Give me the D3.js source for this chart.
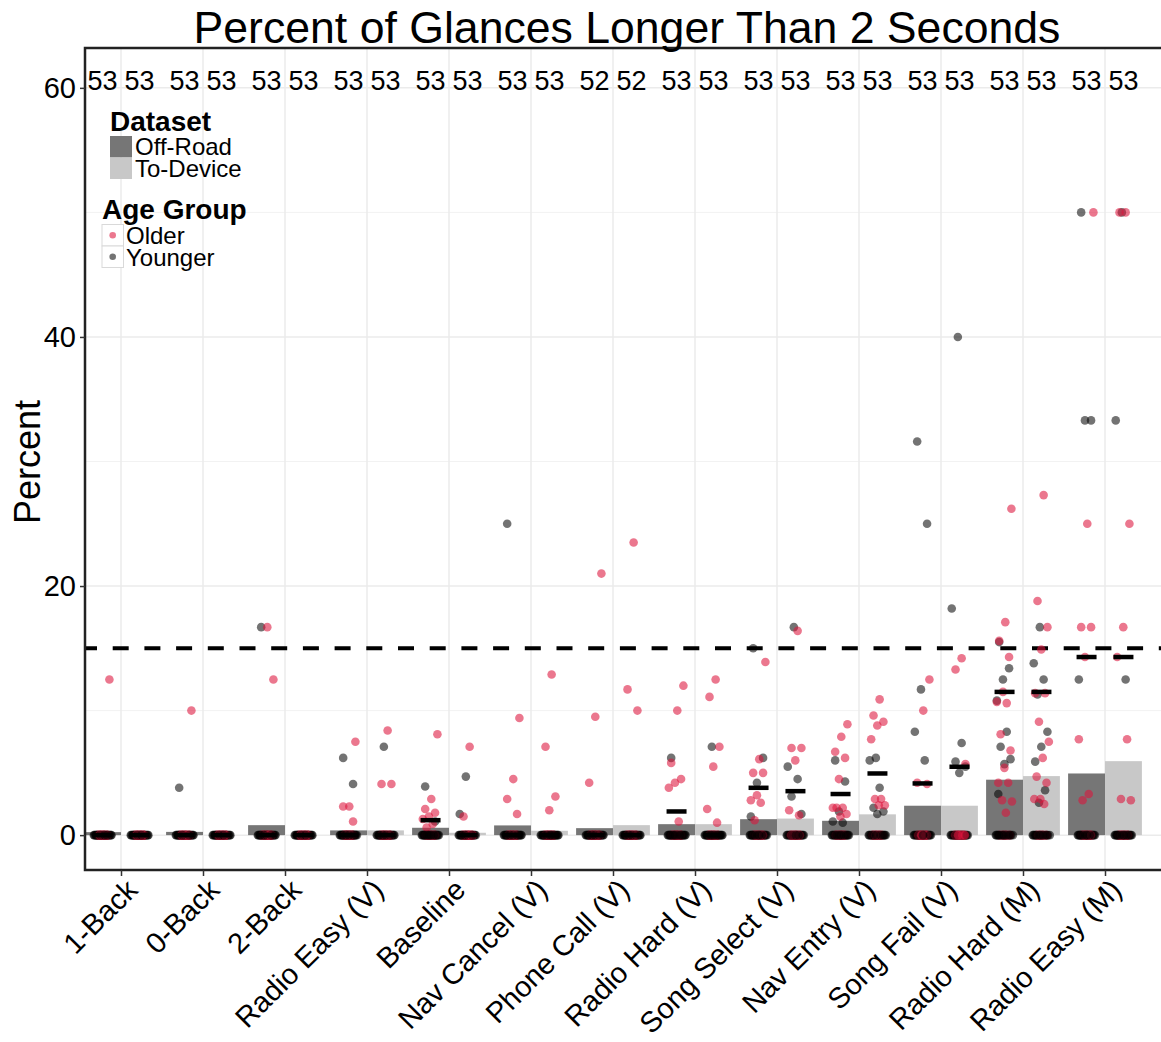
<!DOCTYPE html>
<html>
<head>
<meta charset="utf-8">
<script src="https://cdn.jsdelivr.net/npm/d3@7"></script>
<style>
  body { margin: 0; background: #fff; }
  svg text { font-family: "Liberation Sans", Arial, Helvetica, sans-serif; }
</style>
</head>
<body>
<div id="chart"></div>
<script>
// task order on the x axis
const categories = ["1-Back", "0-Back", "2-Back", "Radio Easy (V)", "Baseline", "Nav Cancel (V)",
  "Phone Call (V)", "Radio Hard (V)", "Song Select (V)", "Nav Entry (V)", "Song Fail (V)",
  "Radio Hard (M)", "Radio Easy (M)"];
const datasets = ["Off-Road", "To-Device"];
const ageGroups = ["Older", "Younger"];

// participants per task (same for both datasets)
const counts = [53, 53, 53, 53, 53, 53, 52, 53, 53, 53, 53, 53, 53];
const nOlder = [26, 26, 26, 26, 26, 26, 26, 26, 26, 26, 26, 26, 26];
const nYounger = [27, 27, 27, 27, 27, 27, 26, 27, 27, 27, 27, 27, 27];

// bar heights (percent)
const barOffRoad = [0.24, 0.26, 0.8, 0.38, 0.59, 0.78, 0.56, 0.88, 1.28, 1.15, 2.36, 4.45, 4.95];
const barToDevice = [0, 0, 0, 0.38, 0.19, 0.35, 0.8, 0.88, 1.33, 1.67, 2.36, 4.74, 5.94];

// black summary marks
const lineOffRoad = [0, 0, 0, 0, 1.2, 0, 0, 1.9, 3.8, 3.3, 4.15, 11.5, 14.3];
const lineToDevice = [0, 0, 0, 0, 0, 0, 0, 0, 3.53, 4.95, 5.49, 11.5, 14.3];

const ySteps = [0, 20, 40, 60];
const yMinor = [10, 30, 50];
const threshold = 15;

// non-zero participant values, one list per task
const offRoadOlder = [
  [12.5], [10.0], [12.5, 16.7], [7.5, 2.3, 2.3, 1.1],
  [8.1, 2.9, 2.1, 1.8, 1.5, 1.3, 0.9, 0.6], [9.4, 4.5, 2.9, 1.7], [21.0, 9.5, 4.2],
  [12.0, 10.0, 5.8, 4.5, 4.2, 3.8, 1.1], [13.9, 6.1, 5.0, 5.0, 3.2, 2.8, 2.6, 1.2],
  [8.9, 7.9, 6.7, 6.2, 4.5, 2.2, 2.2, 2.2, 1.7, 1.5], [12.5, 10.0, 4.2, 4.1],
  [26.2, 17.1, 15.6, 14.3, 11.5, 10.7, 10.6, 8.1, 6.8, 5.4, 4.2, 4.2, 2.8, 2.7, 1.8],
  [50.0, 25.0, 16.7, 16.7, 14.3, 7.7, 3.3, 2.8]
];
const offRoadYounger = [
  [], [3.8], [16.7], [6.2, 4.1],
  [3.9, 1.1], [25.0], [],
  [6.2], [15.0, 6.2, 4.2, 1.5],
  [6.0, 4.3, 1.9, 1.1, 1.0], [31.6, 25.0, 11.7, 8.3, 6.0],
  [15.5, 13.4, 12.5, 10.8, 8.3, 7.1, 6.1, 5.7, 3.3],
  [50.0, 33.3, 33.3, 12.5]
];
const toDeviceOlder = [
  [], [], [], [8.4, 4.1, 4.1],
  [7.1, 1.5], [12.9, 7.1, 3.1, 2.0], [23.5, 11.7, 10.0],
  [12.5, 11.1, 7.1, 5.5, 2.1, 1.0], [16.4, 7.0, 7.0, 6.0, 2.0, 1.6],
  [10.9, 9.6, 9.1, 8.8, 7.7, 2.9, 2.9, 2.4, 2.4], [14.2, 13.3, 5.7],
  [27.3, 18.8, 16.7, 14.9, 11.4, 11.4, 9.1, 7.5, 6.2, 4.7, 4.2, 2.9, 2.9, 2.5],
  [50.0, 50.0, 25.0, 16.7, 14.3, 7.7, 2.9, 2.8]
];
const toDeviceYounger = [
  [], [], [], [7.1],
  [4.7, 1.7], [], [],
  [7.1], [16.7, 5.5, 4.5, 3.1, 1.7],
  [6.2, 6.0, 3.8, 2.2, 1.9, 1.7], [40.0, 18.2, 7.4, 5.9, 5.5, 5.0],
  [16.7, 13.8, 12.5, 11.3, 8.3, 7.1, 5.9, 3.6, 2.6],
  [50.0, 33.3, 12.5]
];

const width = 1161, height = 1042;
const panel = { left: 85, right: 1180, top: 48, bottom: 870 };
const colors = { "Off-Road": "#767676", "To-Device": "#c8c8c8" };
const pointColors = { "Older": "#dc143c", "Younger": "#000000" };
const pointAlpha = { "Older": 0.58, "Younger": 0.55 };

const svg = d3.select("#chart").append("svg")
  .attr("width", width)
  .attr("height", height);

const x = d3.scalePoint().domain(categories).range([121, 1105]);
const step = x.step();
const dodge = d3.scaleBand().domain(datasets).range([-0.45 * step, 0.45 * step]);
const y = d3.scaleLinear().domain([-2.8, 63.2]).range([panel.bottom, panel.top]);

const xc = (c, ds) => x(c) + dodge(ds) + dodge.bandwidth() / 2;

svg.append("defs").append("clipPath").attr("id", "clip")
  .append("rect")
  .attr("x", panel.left).attr("y", panel.top)
  .attr("width", panel.right - panel.left).attr("height", panel.bottom - panel.top);

const plot = svg.append("g").attr("clip-path", "url(#clip)");

// grid
plot.selectAll(".minor").data(yMinor).enter().append("line")
  .attr("x1", panel.left).attr("x2", panel.right)
  .attr("y1", d => y(d)).attr("y2", d => y(d))
  .attr("stroke", "#f2f2f2").attr("stroke-width", 1);
plot.selectAll(".major").data(ySteps).enter().append("line")
  .attr("x1", panel.left).attr("x2", panel.right)
  .attr("y1", d => y(d)).attr("y2", d => y(d))
  .attr("stroke", "#ebebeb").attr("stroke-width", 1.5);
plot.selectAll(".vgrid").data(categories).enter().append("line")
  .attr("x1", d => x(d)).attr("x2", d => x(d))
  .attr("y1", panel.top).attr("y2", panel.bottom)
  .attr("stroke", "#ebebeb").attr("stroke-width", 1.5);

// bars
const barRows = [];
categories.forEach((c, i) => {
  barRows.push({ c, ds: "Off-Road", v: barOffRoad[i] });
  barRows.push({ c, ds: "To-Device", v: barToDevice[i] });
});
plot.selectAll(".bar").data(barRows).enter().append("rect")
  .attr("x", d => x(d.c) + dodge(d.ds))
  .attr("width", dodge.bandwidth())
  .attr("y", d => y(d.v))
  .attr("height", d => y(0) - y(d.v))
  .attr("fill", d => colors[d.ds]);

// threshold line
plot.append("line")
  .attr("x1", panel.left - 4).attr("x2", panel.right)
  .attr("y1", y(threshold)).attr("y2", y(threshold))
  .attr("stroke", "#000").attr("stroke-width", 4)
  .attr("stroke-dasharray", "16,15.7");

// points: non-zero values first, zeros (rest of each group) interleaved by age
function jit(i, w) {
  return ((i * 0.6180339887 + 0.31) % 1 - 0.5) * 2 * w;
}
const pts = [];
function addValues(lists, ds, age, shift) {
  categories.forEach((c, i) => {
    lists[i].forEach((v, k) => pts.push({ c, ds, age, v, dx: jit(k + shift, 8) }));
  });
}
addValues(offRoadYounger, "Off-Road", "Younger", 3);
addValues(toDeviceYounger, "To-Device", "Younger", 5);
addValues(offRoadOlder, "Off-Road", "Older", 1);
addValues(toDeviceOlder, "To-Device", "Older", 7);

function addZeros(ds, olderLists, youngerLists) {
  categories.forEach((c, i) => {
    const zo = nOlder[i] - olderLists[i].length;
    const zy = nYounger[i] - youngerLists[i].length;
    for (let k = 0; k < Math.max(zo, zy); k++) {
      if (k < zo) pts.push({ c, ds, age: "Older", v: 0, dx: jit(k + 5, 5.5) });
      if (k < zy) pts.push({ c, ds, age: "Younger", v: 0, dx: jit(k + 2, 9) });
    }
  });
}
addZeros("Off-Road", offRoadOlder, offRoadYounger);
addZeros("To-Device", toDeviceOlder, toDeviceYounger);

plot.selectAll(".pt").data(pts).enter().append("circle")
  .attr("cx", d => xc(d.c, d.ds) + d.dx)
  .attr("cy", d => y(d.v))
  .attr("r", 4.3)
  .attr("fill", d => pointColors[d.age])
  .attr("fill-opacity", d => pointAlpha[d.age]);

// summary marks
const lineRows = [];
categories.forEach((c, i) => {
  lineRows.push({ c, ds: "Off-Road", v: lineOffRoad[i] });
  lineRows.push({ c, ds: "To-Device", v: lineToDevice[i] });
});
plot.selectAll(".mean").data(lineRows).enter().append("line")
  .attr("x1", d => xc(d.c, d.ds) - 10)
  .attr("x2", d => xc(d.c, d.ds) + 10)
  .attr("y1", d => y(d.v)).attr("y2", d => y(d.v))
  .attr("stroke", "#000").attr("stroke-width", 4.5);

// count labels
const countRows = [];
categories.forEach((c, i) => datasets.forEach(ds => countRows.push({ c, ds, n: counts[i] })));
svg.selectAll(".count").data(countRows).enter().append("text")
  .attr("x", d => xc(d.c, d.ds))
  .attr("y", 90)
  .attr("text-anchor", "middle")
  .attr("font-size", 27)
  .text(d => d.n);

// panel border
svg.append("rect")
  .attr("x", panel.left).attr("y", panel.top)
  .attr("width", panel.right - panel.left).attr("height", panel.bottom - panel.top)
  .attr("fill", "none").attr("stroke", "#222").attr("stroke-width", 2.5);

// y axis
const yAxis = svg.append("g")
  .attr("transform", `translate(${panel.left},0)`)
  .call(d3.axisLeft(y).tickValues(ySteps).tickSize(5).tickPadding(4));
yAxis.select(".domain").remove();
yAxis.selectAll(".tick line").attr("stroke", "#333").attr("stroke-width", 1.5);
yAxis.selectAll(".tick text").attr("font-size", 29).attr("fill", "#000")
  .attr("font-family", "Liberation Sans, Arial, sans-serif");

// x axis
const xAxis = svg.append("g")
  .attr("transform", `translate(0,${panel.bottom})`)
  .call(d3.axisBottom(x).tickSize(6).tickSizeOuter(0));
xAxis.select(".domain").remove();
xAxis.selectAll(".tick line").attr("stroke", "#333").attr("stroke-width", 1.5);
xAxis.selectAll(".tick text")
  .attr("font-size", 29)
  .attr("fill", "#000")
  .attr("font-family", "Liberation Sans, Arial, sans-serif")
  .attr("text-anchor", "end")
  .attr("dy", null)
  .attr("y", null)
  .attr("transform", "translate(3,7) rotate(-45)")
  .attr("dominant-baseline", "hanging");

// titles
svg.append("text")
  .attr("x", 627).attr("y", 43)
  .attr("text-anchor", "middle")
  .attr("font-size", 44.6)
  .text("Percent of Glances Longer Than 2 Seconds");

svg.append("text")
  .attr("transform", "translate(40,462) rotate(-90)")
  .attr("text-anchor", "middle")
  .attr("font-size", 36)
  .text("Percent");

// legend: dataset
const leg = svg.append("g");
leg.append("text").attr("x", 110).attr("y", 131)
  .attr("font-size", 28).attr("font-weight", "bold").text("Dataset");
datasets.forEach((ds, i) => {
  leg.append("rect")
    .attr("x", 110).attr("y", 136 + i * 21.5)
    .attr("width", 22).attr("height", 21.5)
    .attr("fill", colors[ds]);
  leg.append("text")
    .attr("x", 135).attr("y", 155 + i * 21.5)
    .attr("font-size", 24).text(ds);
});

// legend: age group
leg.append("text").attr("x", 102).attr("y", 219)
  .attr("font-size", 28).attr("font-weight", "bold").text("Age Group");
ageGroups.forEach((a, i) => {
  leg.append("rect")
    .attr("x", 102).attr("y", 224.5 + i * 21.5)
    .attr("width", 21.5).attr("height", 21.5)
    .attr("fill", "#fff").attr("stroke", "#d9d9d9").attr("stroke-width", 1);
  leg.append("circle")
    .attr("cx", 112.7).attr("cy", 235.2 + i * 21.5)
    .attr("r", 3.3)
    .attr("fill", pointColors[a])
    .attr("fill-opacity", pointAlpha[a]);
  leg.append("text")
    .attr("x", 126).attr("y", 244 + i * 21.5)
    .attr("font-size", 24).text(a);
});
</script>
</body>
</html>
